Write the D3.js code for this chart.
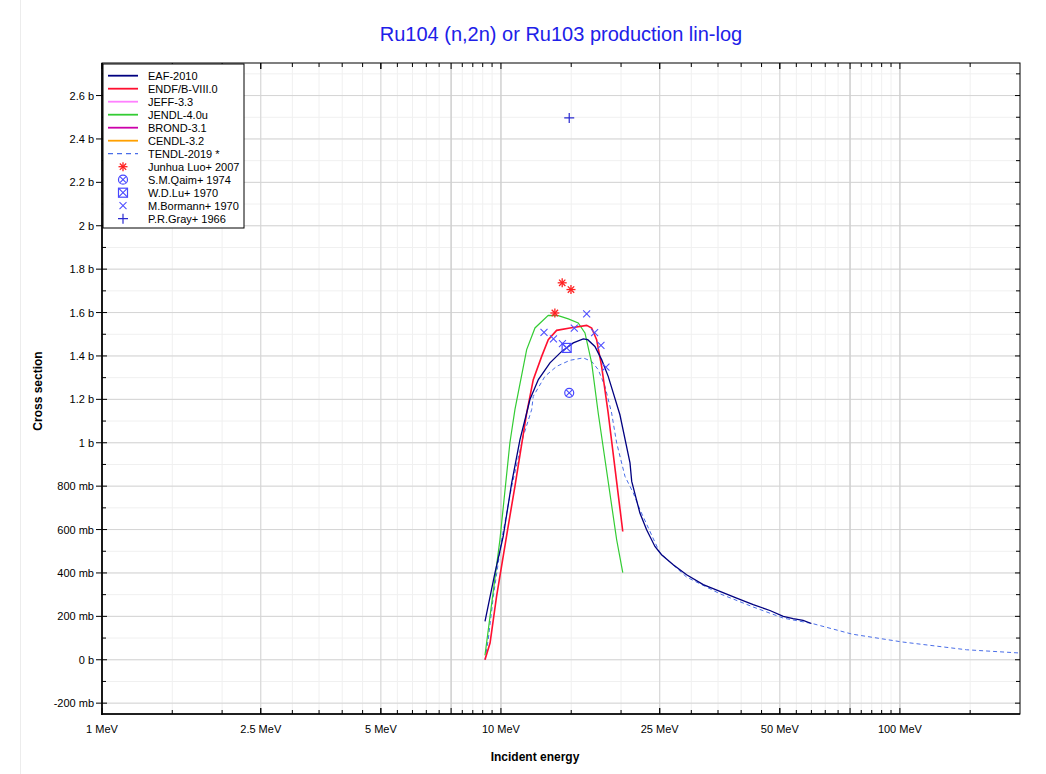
<!DOCTYPE html>
<html>
<head>
<meta charset="utf-8">
<title>Ru104 (n,2n)</title>
<script src="https://d3js.org/d3.v7.min.js"></script>
<style>
  body { margin: 0; background: #fff; }
  text { font-family: "Liberation Sans", Arial, sans-serif; }
</style>
</head>
<body>
<svg width="1046" height="774"></svg>
<script>
// energies in MeV, cross sections in mb
var eafE = [9.12, 9.66, 10.13, 10.64, 11.16, 11.6, 11.82, 12.41, 13.27, 14.2, 15.18, 16.08, 16.5, 17.2, 17.88, 18.57, 19.12, 19.87, 21.06, 21.27, 22.3, 23.18, 24.32, 25.27, 27.03, 29.2, 32.14, 35.39, 38.97, 42.89, 47.23, 51.0, 54.0, 57.2, 60.0];
var eafS = [177, 400, 568, 815, 1014, 1137, 1199, 1291, 1368, 1421, 1460, 1479, 1475, 1444, 1383, 1306, 1230, 1129, 907, 822, 676, 599, 522, 484, 438, 392, 346, 315, 284, 254, 227, 200, 189, 181, 167];

var endfE = [9.12, 9.39, 9.75, 10.39, 10.84, 11.6, 12.05, 12.65, 13.14, 13.79, 14.89, 16.4, 16.88, 17.37, 17.88, 18.57, 20.2];
var endfS = [0, 77, 292, 599, 799, 1137, 1291, 1398, 1475, 1518, 1529, 1541, 1529, 1475, 1352, 1137, 591];

var jendlE = [9.12, 9.94, 10.53, 10.84, 11.6, 12.17, 13.14, 13.92, 14.75, 15.62, 16.24, 16.88, 17.53, 19.5, 20.2];
var jendlS = [20, 553, 1000, 1153, 1429, 1529, 1587, 1586, 1571, 1552, 1506, 1368, 1137, 553, 402];

var tendlE = [9.12, 9.29, 9.57, 10.04, 10.64, 11.37, 11.94, 12.05, 12.89, 13.79, 14.89, 16.08, 16.88, 17.53, 18.23, 18.94, 19.5, 20.46, 21.46, 22.3, 25.03, 29.2, 35.39, 42.89, 51.0, 60.6, 75.9, 101.3, 146.9, 200];
var tendlS = [0, 92, 292, 553, 799, 1029, 1153, 1214, 1306, 1352, 1380, 1391, 1375, 1337, 1260, 1137, 999, 845, 769, 692, 492, 381, 304, 243, 192, 166, 118, 82, 46, 31];

var luoE = [13.65, 14.24, 14.98];
var luoS = [1598, 1737, 1706];
var qaimE = [14.83];
var qaimS = [1230];
var luE = [14.61];
var luS = [1437];
var bormannE = [12.82, 13.54, 14.26, 15.27, 16.4, 17.17, 17.81, 18.33];
var bormannS = [1509, 1479, 1457, 1528, 1594, 1508, 1449, 1348];
var grayE = [14.83];
var grayS = [2497];

var yTicks = [-200, 0, 200, 400, 600, 800, 1000, 1200, 1400, 1600, 1800, 2000, 2200, 2400, 2600];
var yLabels = ["-200 mb", "0 b", "200 mb", "400 mb", "600 mb", "800 mb", "1 b", "1.2 b", "1.4 b", "1.6 b", "1.8 b", "2 b", "2.2 b", "2.4 b", "2.6 b"];
var xTicks = [1, 2.5, 5, 10, 25, 50, 100];
var xLabels = ["1 MeV", "2.5 MeV", "5 MeV", "10 MeV", "25 MeV", "50 MeV", "100 MeV"];

var svg = d3.select("svg");
var L = 102, R = 1020, T = 63, B = 714;

var x = d3.scaleLog().domain([1, 200]).range([L, R]);
var y = d3.scaleLinear().domain([-250, 2750]).range([B, T]);

// faint page border
svg.append("line").attr("x1", 20.5).attr("x2", 20.5).attr("y1", 0).attr("y2", 774)
  .attr("stroke", "#ececec");

// minor x positions
var xMinor = [];
for (var v = 1.5; v < 10; v += 0.5) xMinor.push(v);
for (var v = 15; v < 100; v += 5) xMinor.push(v);
xMinor.push(150);
var xDark = [7.5, 10, 75, 100];
var yMinor = d3.range(-200, 2750, 100);

var grid = svg.append("g");
grid.selectAll(".gxm").data(xMinor).enter().append("line")
  .attr("x1", function(d) { return x(d); }).attr("x2", function(d) { return x(d); })
  .attr("y1", T).attr("y2", B).attr("stroke", "#f0f0f0");
grid.selectAll(".gym").data(yMinor).enter().append("line")
  .attr("x1", L).attr("x2", R)
  .attr("y1", function(d) { return y(d); }).attr("y2", function(d) { return y(d); })
  .attr("stroke", "#f0f0f0");
grid.selectAll(".gy").data(yTicks).enter().append("line")
  .attr("x1", L).attr("x2", R)
  .attr("y1", function(d) { return y(d); }).attr("y2", function(d) { return y(d); })
  .attr("stroke", "#d4d4d4");
grid.selectAll(".gx").data([2.5, 5, 25, 50]).enter().append("line")
  .attr("x1", function(d) { return x(d); }).attr("x2", function(d) { return x(d); })
  .attr("y1", T).attr("y2", B).attr("stroke", "#d4d4d4");
grid.selectAll(".gxd").data(xDark).enter().append("line")
  .attr("x1", function(d) { return x(d); }).attr("x2", function(d) { return x(d); })
  .attr("y1", T).attr("y2", B).attr("stroke", "#d0d0d0").attr("stroke-width", 1.5);

// curves
var line = d3.line()
  .x(function(d) { return x(d[0]); })
  .y(function(d) { return y(d[1]); });

function curve(E, S, color, dash, w) {
  svg.append("path")
    .datum(d3.zip(E, S))
    .attr("d", line)
    .attr("fill", "none")
    .attr("stroke", color)
    .attr("stroke-width", w)
    .attr("stroke-dasharray", dash);
}
curve(tendlE, tendlS, "#4a6ee8", "4,3", 1);
curve(jendlE, jendlS, "#33cc33", null, 1.2);
curve(endfE, endfS, "#ff1030", null, 1.6);
curve(eafE, eafS, "#000080", null, 1.3);

// markers
function drawMarker(g, type, cx, cy) {
  var c;
  if (type === "star") {
    c = "#ff2020";
    for (var a = 0; a < 4; a++) {
      var ang = a * Math.PI / 4, r = 4.5;
      g.append("line")
        .attr("x1", cx - r * Math.cos(ang)).attr("y1", cy - r * Math.sin(ang))
        .attr("x2", cx + r * Math.cos(ang)).attr("y2", cy + r * Math.sin(ang))
        .attr("stroke", c).attr("stroke-width", 1.3);
    }
  } else if (type === "circx") {
    c = "#4848ff";
    g.append("circle").attr("cx", cx).attr("cy", cy).attr("r", 4.5)
      .attr("fill", "none").attr("stroke", c).attr("stroke-width", 1.2);
    g.append("path").attr("d", "M" + (cx - 3) + "," + (cy - 3) + "L" + (cx + 3) + "," + (cy + 3) +
      "M" + (cx - 3) + "," + (cy + 3) + "L" + (cx + 3) + "," + (cy - 3))
      .attr("stroke", c).attr("stroke-width", 1.1);
  } else if (type === "sqx") {
    c = "#4848ff";
    g.append("rect").attr("x", cx - 4.5).attr("y", cy - 4.5).attr("width", 9).attr("height", 9)
      .attr("fill", "none").attr("stroke", c).attr("stroke-width", 1.2);
    g.append("path").attr("d", "M" + (cx - 4.5) + "," + (cy - 4.5) + "L" + (cx + 4.5) + "," + (cy + 4.5) +
      "M" + (cx - 4.5) + "," + (cy + 4.5) + "L" + (cx + 4.5) + "," + (cy - 4.5))
      .attr("stroke", c).attr("stroke-width", 1.1);
  } else if (type === "x") {
    c = "#5050ff";
    g.append("path").attr("d", "M" + (cx - 3.5) + "," + (cy - 3.5) + "L" + (cx + 3.5) + "," + (cy + 3.5) +
      "M" + (cx - 3.5) + "," + (cy + 3.5) + "L" + (cx + 3.5) + "," + (cy - 3.5))
      .attr("stroke", c).attr("stroke-width", 1.1);
  } else if (type === "plus") {
    c = "#2a2ad0";
    g.append("path").attr("d", "M" + (cx - 5) + "," + cy + "L" + (cx + 5) + "," + cy +
      "M" + cx + "," + (cy - 5) + "L" + cx + "," + (cy + 5))
      .attr("stroke", c).attr("stroke-width", 1.2);
  }
}
var expSets = [
  [bormannE, bormannS, "x"],
  [luE, luS, "sqx"],
  [qaimE, qaimS, "circx"],
  [luoE, luoS, "star"],
  [grayE, grayS, "plus"]
];
var mg = svg.append("g");
expSets.forEach(function(s) {
  s[0].forEach(function(e, i) { drawMarker(mg, s[2], x(e), y(s[1][i])); });
});

// frame
svg.append("rect").attr("x", L).attr("y", T).attr("width", R - L).attr("height", B - T)
  .attr("fill", "none").attr("stroke", "#000").attr("stroke-width", 1);
svg.append("line").attr("x1", L).attr("x2", L).attr("y1", T).attr("y2", B + 1)
  .attr("stroke", "#000").attr("stroke-width", 1.6);
svg.append("line").attr("x1", L - 1).attr("x2", R).attr("y1", B).attr("y2", B)
  .attr("stroke", "#000").attr("stroke-width", 1.6);

// ticks
var tk = svg.append("g").attr("stroke", "#000");
xMinor.concat(xTicks).forEach(function(d) {
  var major = xTicks.indexOf(d) >= 0 || xDark.indexOf(d) >= 0;
  var len = major ? 6 : 4;
  tk.append("line").attr("x1", x(d)).attr("x2", x(d)).attr("y1", B).attr("y2", B - len);
  tk.append("line").attr("x1", x(d)).attr("x2", x(d)).attr("y1", T).attr("y2", T + len);
});
yMinor.forEach(function(d) {
  var major = yTicks.indexOf(d) >= 0;
  tk.append("line").attr("x1", major ? L - 6 : L).attr("x2", L + (major ? 5 : 4))
    .attr("y1", y(d)).attr("y2", y(d));
  tk.append("line").attr("x1", R).attr("x2", R - (major ? 5 : 4))
    .attr("y1", y(d)).attr("y2", y(d));
});

// tick labels
svg.selectAll(".xl").data(xTicks).enter().append("text")
  .attr("x", function(d) { return x(d); }).attr("y", 733)
  .attr("text-anchor", "middle").attr("font-size", 11).attr("fill", "#000")
  .text(function(d, i) { return xLabels[i]; });
svg.selectAll(".yl").data(yTicks).enter().append("text")
  .attr("x", 94).attr("y", function(d) { return y(d) + 4; })
  .attr("text-anchor", "end").attr("font-size", 11).attr("fill", "#000")
  .text(function(d, i) { return yLabels[i]; });

// titles
svg.append("text").attr("x", 561).attr("y", 41).attr("text-anchor", "middle")
  .attr("font-size", 20).attr("fill", "#2020e8")
  .text("Ru104 (n,2n) or Ru103 production lin-log");
svg.append("text").attr("x", 535).attr("y", 761).attr("text-anchor", "middle")
  .attr("font-size", 12).attr("font-weight", "bold").text("Incident energy");
svg.append("text").attr("transform", "translate(42,391) rotate(-90)").attr("text-anchor", "middle")
  .attr("font-size", 12).attr("font-weight", "bold").text("Cross section");

// legend
var legNames = ["EAF-2010", "ENDF/B-VIII.0", "JEFF-3.3", "JENDL-4.0u", "BROND-3.1", "CENDL-3.2", "TENDL-2019 *",
  "Junhua Luo+ 2007", "S.M.Qaim+ 1974", "W.D.Lu+ 1970", "M.Bormann+ 1970", "P.R.Gray+ 1966"];
var legColors = ["#000080", "#ff1030", "#ff80ff", "#33cc33", "#cc00aa", "#ffa000", "#4a6ee8"];
var legMarks = ["star", "circx", "sqx", "x", "plus"];
var lg = svg.append("g");
lg.append("rect").attr("x", 103).attr("y", 64).attr("width", 141).attr("height", 164)
  .attr("fill", "#fff").attr("stroke", "#000").attr("stroke-width", 1);
legNames.forEach(function(n, i) {
  var yy = 75.7 + i * 13;
  if (i < legColors.length) {
    lg.append("line").attr("x1", 108).attr("x2", 138).attr("y1", yy).attr("y2", yy)
      .attr("stroke", legColors[i]).attr("stroke-width", i === 6 ? 1.3 : 1.8)
      .attr("stroke-dasharray", i === 6 ? "5,4" : null);
  } else {
    drawMarker(lg, legMarks[i - legColors.length], 123, yy);
  }
  lg.append("text").attr("x", 148).attr("y", yy + 4).attr("font-size", 11).attr("fill", "#000").text(n);
});
</script>
</body>
</html>
